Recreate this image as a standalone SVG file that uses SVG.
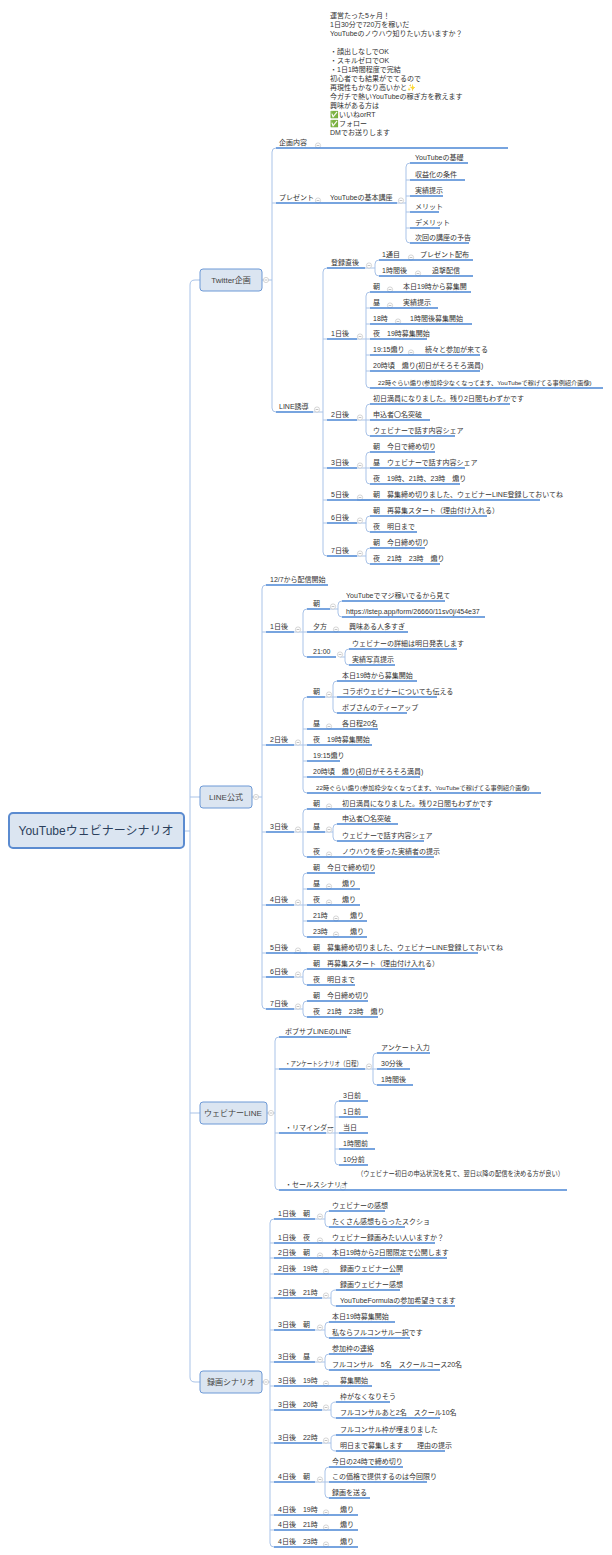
<svg xmlns="http://www.w3.org/2000/svg" xmlns:xlink="http://www.w3.org/1999/xlink" width="612" height="1555" viewBox="0 0 612 1555">
<style>
text{font-family:"Liberation Sans","Noto Sans CJK JP",sans-serif;font-size:7px;fill:#333}
.u{stroke:#4a86d4;stroke-width:1.5;fill:none}
.k{stroke:#a9c3e8;stroke-width:1;fill:none}
.b{fill:#dbe5f1;stroke:#6d99d6;stroke-width:1}
.m{font-size:8px;text-anchor:middle;fill:#444}
.s{font-size:6.2px}
</style>
<defs>
<g id="c"><circle r="2.6" fill="#fff" stroke="#c4c4c4" stroke-width="0.7"/><path d="M-1.4 0H1.4" stroke="#aaa" stroke-width="0.7"/></g>
</defs>
<rect width="612" height="1555" fill="#fff"/>
<g id="connectors" class="k">
<path d="M184 831H190M195 280Q190 280 190 285V1377Q190 1382 195 1382H200M195 280H200M190 797H200M190 1113H200"/>
<path d="M262 280H272M276 148Q272 148 272 152V408Q272 412 276 412M272 203h4"/>
<path d="M397 203H406M410 163Q406 163 406 167V239Q406 243 410 243M406 180h4M406 196h4M406 212h4M406 228h4"/>
<path d="M313 412H323M327 268Q323 268 323 272V552Q323 556 327 556M323 339h4M323 420h4M323 468h4M323 500h4M323 523h4"/>
<path d="M365 268H375M379 260Q375 260 375 264V272Q375 276 379 276"/>
<path d="M357 339H366M370 292Q366 292 366 296V384Q366 388 370 388M366 308h4M366 324h4M366 339h4M366 355h4M366 371h4"/>
<path d="M357 420H366M370 404Q366 404 366 408V432Q366 436 370 436M366 420h4"/>
<path d="M357 468H366M370 452Q366 452 366 456V480Q366 484 370 484M366 468h4"/>
<path d="M357 500H370"/>
<path d="M357 523H366M370 516Q366 516 366 520V528Q366 532 370 532"/>
<path d="M357 556H366M370 548Q366 548 366 552V560Q366 564 370 564"/>
<path d="M252 797H262M266 585Q262 585 262 589V1005Q262 1009 266 1009M262 632h4M262 745h4M262 832h4M262 905h4M262 953h4M262 977h4"/>
<path d="M294 632H303M307 609Q303 609 303 613V653Q303 657 307 657M303 632h4"/>
<path d="M330 609H338M342 601Q338 601 338 605V613Q338 617 342 617"/>
<path d="M340 657H345M349 649Q345 649 345 653V661Q345 665 349 665"/>
<path d="M294 745H303M307 697Q303 697 303 701V789Q303 793 307 793M303 729h4M303 745h4M303 761h4M303 777h4"/>
<path d="M325 697H333M337 681Q333 681 333 685V709Q333 713 337 713M333 697h4"/>
<path d="M294 832H303M307 809Q303 809 303 813V853Q303 857 307 857M303 832h4"/>
<path d="M325 832H333M337 824Q333 824 333 828V837Q333 841 337 841"/>
<path d="M294 905H303M307 873Q303 873 303 877V933Q303 937 307 937M303 889h4M303 905h4M303 921h4"/>
<path d="M294 953H307"/>
<path d="M294 977H303M307 969Q303 969 303 973V981Q303 985 307 985"/>
<path d="M294 1009H303M307 1001Q303 1001 303 1005V1013Q303 1017 307 1017"/>
<path d="M267 1113H275M279 1037Q275 1037 275 1041V1186Q275 1190 279 1190M275 1069h4M275 1133h4"/>
<path d="M365 1069H373M377 1053Q373 1053 373 1057V1081Q373 1085 377 1085M373 1069h4"/>
<path d="M326 1133H335M339 1101Q335 1101 335 1105V1161Q335 1165 339 1165M335 1117h4M335 1133h4M335 1149h4"/>
<path d="M262 1382H270M274 1219Q270 1219 270 1223V1543Q270 1547 274 1547M270 1243h4M270 1258h4M270 1274h4M270 1298h4M270 1330h4M270 1362h4M270 1386h4M270 1410h4M270 1443h4M270 1482h4M270 1515h4M270 1530h4"/>
<path d="M315 1219H325M329 1211Q325 1211 325 1215V1223Q325 1227 329 1227"/>
<path d="M322 1298H331M336 1290Q331 1290 331 1294V1302Q331 1306 336 1306"/>
<path d="M315 1330H325M329 1322Q325 1322 325 1326V1334Q325 1338 329 1338"/>
<path d="M315 1362H325M329 1354Q325 1354 325 1358V1366Q325 1370 329 1370"/>
<path d="M322 1410H331M336 1402Q331 1402 331 1406V1414Q331 1418 336 1418"/>
<path d="M322 1443H331M336 1435Q331 1435 331 1439V1447Q331 1451 336 1451"/>
<path d="M315 1482H325M329 1467Q325 1467 325 1471V1494Q325 1498 329 1498M325 1482h4"/>
</g>

<g id="root"><rect x="9" y="813" width="175" height="35" rx="4" fill="#dbe5f1" stroke="#5b8bd0" stroke-width="2"/><text x="96" y="835" text-anchor="middle" style="font-size:12px;fill:#2b3f5c">YouTubeウェビナーシナリオ</text></g>

<g id="twitter"><rect class="b" x="200" y="269" width="62" height="22" rx="3"/><text class="m" x="231" y="283">Twitter企画</text><use href="#c" x="266" y="280"/></g>
<g id="kikaku"><text x="279" y="145">企画内容</text><use href="#c" x="318" y="145.5"/><path class="u" d="M276 148H508"/>
<text x="330" y="18">運営たった5ヶ月！</text><text x="330" y="27">1日30分で720万を稼いだ</text><text x="330" y="36">YouTubeのノウハウ知りたい方いますか？</text><text x="330" y="54">・顔出しなしでOK</text><text x="330" y="63">・スキルゼロでOK</text><text x="330" y="72">・1日1時間程度で完結</text><text x="330" y="81">初心者でも結果がでてるので</text><text x="330" y="90">再現性もかなり高いかと✨</text><text x="330" y="99">今ガチで熱いYouTubeの稼ぎ方を教えます</text><text x="330" y="108">興味がある方は</text><text x="330" y="117">✅いいねorRT</text><text x="330" y="126">✅フォロー</text><text x="330" y="135">DMでお送りします</text></g>
<g id="present"><text x="279" y="200">プレゼント</text><use href="#c" x="318" y="200.5"/><text x="330" y="200">YouTubeの基本講座</text><use href="#c" x="401" y="200.5"/><path class="u" d="M276 203H397"/></g>
<g id="p1"><text x="415" y="160">YouTubeの基礎</text><path class="u" d="M410 163H468"/></g>
<g id="p2"><text x="415" y="177">収益化の条件</text><path class="u" d="M410 180H465"/></g>
<g id="p3"><text x="415" y="193">実績提示</text><path class="u" d="M410 196H443"/></g>
<g id="p4"><text x="415" y="209">メリット</text><path class="u" d="M410 212H439"/></g>
<g id="p5"><text x="415" y="225">デメリット</text><path class="u" d="M410 228H440"/></g>
<g id="p6"><text x="415" y="240">次回の講座の予告</text><path class="u" d="M410 243H469"/></g>

<g id="line"><text x="279" y="409">LINE誘導</text><use href="#c" x="317" y="409.5"/><path class="u" d="M276 412H313"/></g>
<g id="t0"><text x="331" y="265">登録直後</text><use href="#c" x="369" y="265.5"/><path class="u" d="M327 268H365"/></g>
<g id="t0a"><text x="382" y="257">1通目</text><use href="#c" x="411" y="257.5"/><text x="420" y="257">プレゼント配布</text><path class="u" d="M379 260H473"/></g>
<g id="t0b"><text x="382" y="273">1時間後</text><use href="#c" x="418" y="273.5"/><text x="432" y="273">追撃配信</text><path class="u" d="M379 276H473"/></g>
<g id="t1"><text x="331" y="336">1日後</text><use href="#c" x="360" y="336.5"/><path class="u" d="M327 339H357"/></g>
<g id="t1a"><text x="373" y="289">朝</text><use href="#c" x="390" y="289.5"/><text x="403" y="289">本日19時から募集開</text><path class="u" d="M370 292H471"/></g>
<g id="t1b"><text x="373" y="305">昼</text><use href="#c" x="390" y="305.5"/><text x="403" y="305">実績提示</text><path class="u" d="M370 308H438"/></g>
<g id="t1c"><text x="373" y="321">18時</text><use href="#c" x="398" y="321.5"/><text x="410" y="321">1時間後募集開始</text><path class="u" d="M370 324H472"/></g>
<g id="t1d"><text x="373" y="336">夜　19時募集開始</text><path class="u" d="M370 339H427"/></g>
<g id="t1e"><text x="373" y="352">19:15煽り</text><use href="#c" x="411" y="352.5"/><text x="425" y="352">続々と参加が来てる</text><path class="u" d="M370 355H480"/></g>
<g id="t1f"><text x="373" y="368">20時頃　煽り(初日がそろそろ満員)</text><path class="u" d="M370 371H480"/></g>
<g id="t1g"><text class="s" x="378" y="385">22時ぐらい煽り(参加枠少なくなってます、YouTubeで稼げてる事例紹介画像)</text><path class="u" d="M370 388H603"/></g>
<g id="t2"><text x="331" y="417">2日後</text><use href="#c" x="360" y="417.5"/><path class="u" d="M327 420H357"/></g>
<g id="t2a"><text x="373" y="401">初日満員になりました。残り2日間もわずかです</text><path class="u" d="M370 404H510"/></g>
<g id="t2b"><text x="373" y="417">申込者〇名突破</text><path class="u" d="M370 420H430"/></g>
<g id="t2c"><text x="373" y="433">ウェビナーで話す内容シェア</text><path class="u" d="M370 436H455"/></g>
<g id="t3"><text x="331" y="465">3日後</text><use href="#c" x="360" y="465.5"/><path class="u" d="M327 468H357"/></g>
<g id="t3a"><text x="373" y="449">朝　今日で締め切り</text><path class="u" d="M370 452H435"/></g>
<g id="t3b"><text x="373" y="465">昼　ウェビナーで話す内容シェア</text><path class="u" d="M370 468H465"/></g>
<g id="t3c"><text x="373" y="481">夜　19時、21時、23時　煽り</text><path class="u" d="M370 484H460"/></g>
<g id="t5"><text x="331" y="497">5日後</text><use href="#c" x="360" y="497.5"/><text x="373" y="497">朝　募集締め切りました、ウェビナーLINE登録しておいてね</text><path class="u" d="M327 500H540"/></g>
<g id="t6"><text x="331" y="520">6日後</text><use href="#c" x="360" y="520.5"/><path class="u" d="M327 523H357"/></g>
<g id="t6a"><text x="373" y="513">朝　再募集スタート（理由付け入れる）</text><path class="u" d="M370 516H487"/></g>
<g id="t6b"><text x="373" y="529">夜　明日まで</text><path class="u" d="M370 532H417"/></g>
<g id="t7"><text x="331" y="553">7日後</text><use href="#c" x="360" y="553.5"/><path class="u" d="M327 556H357"/></g>
<g id="t7a"><text x="373" y="545">朝　今日締め切り</text><path class="u" d="M370 548H425"/></g>
<g id="t7b"><text x="373" y="561">夜　21時　23時　煽り</text><path class="u" d="M370 564H440"/></g>

<g id="lineoa"><rect class="b" x="200" y="786" width="52" height="22" rx="3"/><text class="m" x="226" y="800">LINE公式</text><use href="#c" x="256" y="797"/></g>
<g id="l0"><text x="270" y="582">12/7から配信開始</text><path class="u" d="M266 585H328"/></g>
<g id="l1"><text x="270" y="629">1日後</text><use href="#c" x="298" y="629.5"/><path class="u" d="M266 632H294"/></g>
<g id="l1a"><text x="313" y="606">朝</text><use href="#c" x="333" y="606.5"/><path class="u" d="M307 609H330"/></g>
<g id="l1a1"><text x="346" y="598">YouTubeでマジ稼いでるから見て</text><path class="u" d="M342 601H445"/></g>
<g id="l1a2"><text x="346" y="614">https://lstep.app/form/26660/11sv0j/454e37</text><path class="u" d="M342 617H485"/></g>
<g id="l1b"><text x="313" y="629">夕方</text><use href="#c" x="336" y="629.5"/><text x="349" y="629">興味ある人多すぎ</text><path class="u" d="M307 632H408"/></g>
<g id="l1c"><text x="313" y="654">21:00</text><use href="#c" x="340" y="654.5"/><path class="u" d="M307 657H336"/></g>
<g id="l1c1"><text x="352" y="646">ウェビナーの詳細は明日発表します</text><path class="u" d="M349 649H457"/></g>
<g id="l1c2"><text x="352" y="662">実績写真提示</text><path class="u" d="M349 665H395"/></g>
<g id="l2"><text x="270" y="742">2日後</text><use href="#c" x="298" y="742.5"/><path class="u" d="M266 745H294"/></g>
<g id="l2a"><text x="313" y="694">朝</text><use href="#c" x="329" y="694.5"/><path class="u" d="M307 697H325"/></g>
<g id="l2a1"><text x="342" y="678">本日19時から募集開始</text><path class="u" d="M337 681H417"/></g>
<g id="l2a2"><text x="342" y="694">コラボウェビナーについても伝える</text><path class="u" d="M337 697H437"/></g>
<g id="l2a3"><text x="342" y="710">ボブさんのティーアップ</text><path class="u" d="M337 713H407"/></g>
<g id="l2b"><text x="313" y="726">昼</text><use href="#c" x="329" y="726.5"/><text x="342" y="726">各日程20名</text><path class="u" d="M307 729H378"/></g>
<g id="l2c"><text x="313" y="742">夜　19時募集開始</text><path class="u" d="M307 745H372"/></g>
<g id="l2d"><text x="313" y="758">19:15煽り</text><path class="u" d="M307 761H340"/></g>
<g id="l2e"><text x="313" y="774">20時頃　煽り(初日がそろそろ満員)</text><path class="u" d="M307 777H420"/></g>
<g id="l2f"><text class="s" x="316" y="790">22時ぐらい煽り(参加枠少なくなってます、YouTubeで稼げてる事例紹介画像)</text><path class="u" d="M307 793H541"/></g>
<g id="l3"><text x="270" y="829">3日後</text><use href="#c" x="298" y="829.5"/><path class="u" d="M266 832H294"/></g>
<g id="l3a"><text x="313" y="806">朝</text><use href="#c" x="329" y="806.5"/><text x="342" y="806">初日満員になりました。残り2日間もわずかです</text><path class="u" d="M307 809H480"/></g>
<g id="l3b"><text x="313" y="829">昼</text><use href="#c" x="329" y="829.5"/><path class="u" d="M307 832H325"/></g>
<g id="l3b1"><text x="342" y="821">申込者〇名突破</text><path class="u" d="M337 824H398"/></g>
<g id="l3b2"><text x="342" y="838">ウェビナーで話す内容シェア</text><path class="u" d="M337 841H424"/></g>
<g id="l3c"><text x="313" y="854">夜</text><use href="#c" x="329" y="854.5"/><text x="342" y="854">ノウハウを使った実績者の提示</text><path class="u" d="M307 857H434"/></g>
<g id="l4"><text x="270" y="902">4日後</text><use href="#c" x="298" y="902.5"/><path class="u" d="M266 905H294"/></g>
<g id="l4a"><text x="313" y="870">朝　今日で締め切り</text><path class="u" d="M307 873H375"/></g>
<g id="l4b"><text x="313" y="886">昼</text><use href="#c" x="329" y="886.5"/><text x="342" y="886">煽り</text><path class="u" d="M307 889H360"/></g>
<g id="l4c"><text x="313" y="902">夜</text><use href="#c" x="329" y="902.5"/><text x="342" y="902">煽り</text><path class="u" d="M307 905H360"/></g>
<g id="l4d"><text x="313" y="918">21時</text><use href="#c" x="336" y="918.5"/><text x="350" y="918">煽り</text><path class="u" d="M307 921H367"/></g>
<g id="l4e"><text x="313" y="934">23時</text><use href="#c" x="336" y="934.5"/><text x="350" y="934">煽り</text><path class="u" d="M307 937H367"/></g>
<g id="l5"><text x="270" y="950">5日後</text><use href="#c" x="298" y="950.5"/><text x="313" y="950">朝　募集締め切りました、ウェビナーLINE登録しておいてね</text><path class="u" d="M266 953H478"/></g>
<g id="l6"><text x="270" y="974">6日後</text><use href="#c" x="298" y="974.5"/><path class="u" d="M266 977H294"/></g>
<g id="l6a"><text x="313" y="966">朝　再募集スタート（理由付け入れる）</text><path class="u" d="M307 969H425"/></g>
<g id="l6b"><text x="313" y="982">夜　明日まで</text><path class="u" d="M307 985H355"/></g>
<g id="l7"><text x="270" y="1006">7日後</text><use href="#c" x="298" y="1006.5"/><path class="u" d="M266 1009H294"/></g>
<g id="l7a"><text x="313" y="998">朝　今日締め切り</text><path class="u" d="M307 1001H368"/></g>
<g id="l7b"><text x="313" y="1014">夜　21時　23時　煽り</text><path class="u" d="M307 1017H378"/></g>

<g id="webline"><rect class="b" x="200" y="1102" width="67" height="22" rx="3"/><text class="m" x="233" y="1116">ウェビナーLINE</text><use href="#c" x="271" y="1113"/></g>
<g id="w0"><text x="285" y="1034">ボブサブLINEのLINE</text><path class="u" d="M279 1037H347"/></g>
<g id="w1"><text x="285" y="1066" textLength="77" lengthAdjust="spacingAndGlyphs">・アンケートシナリオ（日程）</text><use href="#c" x="369" y="1066.5"/><path class="u" d="M279 1069H365"/></g>
<g id="w1a"><text x="381" y="1050">アンケート入力</text><path class="u" d="M377 1053H430"/></g>
<g id="w1b"><text x="381" y="1066">30分後</text><path class="u" d="M377 1069H410"/></g>
<g id="w1c"><text x="381" y="1082">1時間後</text><path class="u" d="M377 1085H413"/></g>
<g id="w2"><text x="285" y="1130">・リマインダー</text><use href="#c" x="330" y="1130.5"/><path class="u" d="M279 1133H326"/></g>
<g id="w2a"><text x="343" y="1098">3日前</text><path class="u" d="M339 1101H368"/></g>
<g id="w2b"><text x="343" y="1114">1日前</text><path class="u" d="M339 1117H368"/></g>
<g id="w2c"><text x="343" y="1130">当日</text><path class="u" d="M339 1133H368"/></g>
<g id="w2d"><text x="343" y="1146">1時間前</text><path class="u" d="M339 1149H375"/></g>
<g id="w2e"><text x="343" y="1162">10分前</text><path class="u" d="M339 1165H368"/></g>
<g id="w3"><text x="285" y="1187">・セールスシナリオ</text><use href="#c" x="343" y="1187.5"/><text x="357" y="1176" textLength="207" lengthAdjust="spacingAndGlyphs">（ウェビナー初日の申込状況を見て、翌日以降の配信を決める方が良い）</text><path class="u" d="M279 1190H567"/></g>

<g id="rokuga"><rect class="b" x="200" y="1371" width="62" height="22" rx="3"/><text class="m" x="231" y="1385">録画シナリオ</text><use href="#c" x="266" y="1382"/></g>
<g id="r1"><text x="278" y="1216">1日後　朝</text><use href="#c" x="320" y="1216.5"/><path class="u" d="M274 1219H315"/></g>
<g id="r1a"><text x="332" y="1208">ウェビナーの感想</text><path class="u" d="M329 1211H385"/></g>
<g id="r1b"><text x="332" y="1224">たくさん感想もらったスクショ</text><path class="u" d="M329 1227H405"/></g>
<g id="r2"><text x="278" y="1240">1日後　夜</text><use href="#c" x="320" y="1240.5"/><text x="332" y="1240">ウェビナー録画みたい人いますか？</text><path class="u" d="M274 1243H435"/></g>
<g id="r3"><text x="278" y="1255">2日後　朝</text><use href="#c" x="320" y="1255.5"/><text x="332" y="1255">本日19時から2日間限定で公開します</text><path class="u" d="M274 1258H447"/></g>
<g id="r4"><text x="278" y="1271">2日後　19時</text><use href="#c" x="326" y="1271.5"/><text x="340" y="1271">録画ウェビナー公開</text><path class="u" d="M274 1274H400"/></g>
<g id="r5"><text x="278" y="1295">2日後　21時</text><use href="#c" x="326" y="1295.5"/><path class="u" d="M274 1298H322"/></g>
<g id="r5a"><text x="340" y="1287">録画ウェビナー感想</text><path class="u" d="M336 1290H400"/></g>
<g id="r5b"><text x="340" y="1303">YouTubeFormulaの参加希望きてます</text><path class="u" d="M336 1306H455"/></g>
<g id="r6"><text x="278" y="1327">3日後　朝</text><use href="#c" x="320" y="1327.5"/><path class="u" d="M274 1330H315"/></g>
<g id="r6a"><text x="332" y="1319">本日19時募集開始</text><path class="u" d="M329 1322H395"/></g>
<g id="r6b"><text x="332" y="1335">私ならフルコンサル一択です</text><path class="u" d="M329 1338H410"/></g>
<g id="r7"><text x="278" y="1359">3日後　昼</text><use href="#c" x="320" y="1359.5"/><path class="u" d="M274 1362H315"/></g>
<g id="r7a"><text x="332" y="1351">参加枠の連絡</text><path class="u" d="M329 1354H372"/></g>
<g id="r7b"><text x="332" y="1367">フルコンサル　5名　スクールコース20名</text><path class="u" d="M329 1370H440"/></g>
<g id="r8"><text x="278" y="1383">3日後　19時</text><use href="#c" x="326" y="1383.5"/><text x="340" y="1383">募集開始</text><path class="u" d="M274 1386H372"/></g>
<g id="r9"><text x="278" y="1407">3日後　20時</text><use href="#c" x="326" y="1407.5"/><path class="u" d="M274 1410H322"/></g>
<g id="r9a"><text x="340" y="1399">枠がなくなりそう</text><path class="u" d="M336 1402H390"/></g>
<g id="r9b"><text x="340" y="1415">フルコンサルあと2名　スクール10名</text><path class="u" d="M336 1418H440"/></g>
<g id="r10"><text x="278" y="1440">3日後　22時</text><use href="#c" x="326" y="1440.5"/><path class="u" d="M274 1443H322"/></g>
<g id="r10a"><text x="340" y="1432">フルコンサル枠が埋まりました</text><path class="u" d="M336 1435H422"/></g>
<g id="r10b"><text x="340" y="1448">明日まで募集します　　理由の提示</text><path class="u" d="M336 1451H445"/></g>
<g id="r11"><text x="278" y="1479">4日後　朝</text><use href="#c" x="320" y="1479.5"/><path class="u" d="M274 1482H315"/></g>
<g id="r11a"><text x="332" y="1464">今日の24時で締め切り</text><path class="u" d="M329 1467H403"/></g>
<g id="r11b"><text x="332" y="1479">この価格で提供するのは今回限り</text><path class="u" d="M329 1482H427"/></g>
<g id="r11c"><text x="332" y="1495">録画を送る</text><path class="u" d="M329 1498H370"/></g>
<g id="r12"><text x="278" y="1512">4日後　19時</text><use href="#c" x="326" y="1512.5"/><text x="340" y="1512">煽り</text><path class="u" d="M274 1515H358"/></g>
<g id="r13"><text x="278" y="1527">4日後　21時</text><use href="#c" x="326" y="1527.5"/><text x="340" y="1527">煽り</text><path class="u" d="M274 1530H358"/></g>
<g id="r14"><text x="278" y="1544">4日後　23時</text><use href="#c" x="326" y="1544.5"/><text x="340" y="1544">煽り</text><path class="u" d="M274 1547H358"/></g>
</svg>
